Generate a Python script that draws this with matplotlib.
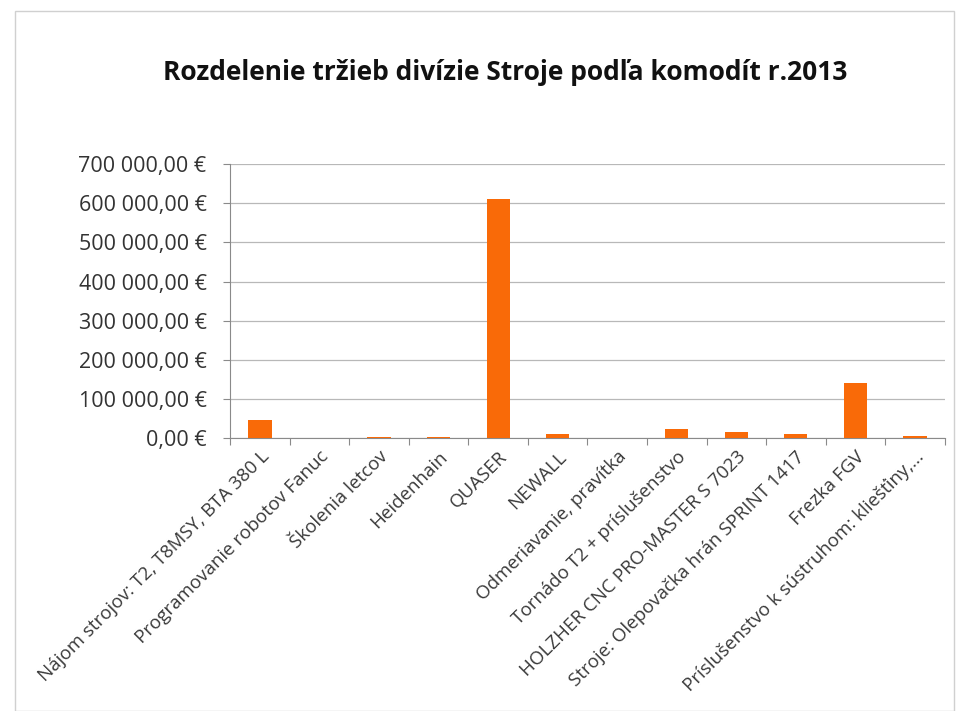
import numpy as np
import matplotlib.pyplot as plt
from matplotlib.ticker import FuncFormatter
from matplotlib.patches import Rectangle

# Tržby podľa komodít (EUR), odčítané z grafu
categories = [
    "Nájom strojov: T2, T8MSY, BTA 380 L",
    "Programovanie robotov Fanuc",
    "Školenia letcov",
    "Heidenhain",
    "QUASER",
    "NEWALL",
    "Odmeriavanie, pravítka",
    "Tornádo T2 + príslušenstvo",
    "HOLZHER CNC PRO-MASTER S 7023",
    "Stroje: Olepovačka hrán SPRINT 1417",
    "Frezka FGV",
    "Príslušenstvo k sústruhom: kliešťiny,...",
]
sales = [46000, 0, 2000, 2000, 611000, 11000, 0, 23000, 16000, 9000, 141000, 6000]
yticks = np.arange(0, 700001, 100000)

plt.rcParams['font.family'] = ['Open Sans', 'DejaVu Sans']

fig = plt.figure(figsize=(9.63, 7.11), dpi=100)
ax = fig.add_axes([0.239, 0.384, 0.742, 0.385])

x = np.arange(len(categories))
ax.bar(x, sales, width=0.39, color='#F96A08', zorder=3)

ax.set_xlim(-0.5, len(categories) - 0.5)
ax.set_ylim(0, 700000)
ax.set_yticks(yticks)


def euro(v, pos):
    s = f"{v:,.2f}".replace(",", " ").replace(".", ",")
    return s + " €"


ax.yaxis.set_major_formatter(FuncFormatter(euro))
ax.tick_params(axis='y', labelsize=15.5, colors='#8a8a8a', labelcolor='#333333',
               length=5, width=0.8, pad=12)
ax.grid(axis='y', color='#b8b8b8', linewidth=0.9, zorder=0)

ax.set_xticks(x)
ax.set_xticklabels(categories, rotation=45, ha='right', rotation_mode='anchor',
                   fontsize=13.5, color='#3a3a3a')
ax.tick_params(axis='x', length=0, pad=7)
ax.set_xticks(np.arange(-0.5, len(categories) + 0.5, 1), minor=True)
ax.tick_params(axis='x', which='minor', length=5, width=0.8, color='#8a8a8a')

for side in ['top', 'right']:
    ax.spines[side].set_visible(False)
ax.spines['left'].set_color('#8a8a8a')
ax.spines['bottom'].set_color('#8a8a8a')

fig.text(0.525, 0.898, "Rozdelenie tržieb divízie Stroje podľa komodít r.2013",
         ha='center', va='center', fontsize=19, fontweight='bold', color='#111111')

fig.patches.append(Rectangle((0.016, 0.0), 0.975, 0.985, transform=fig.transFigure,
                             fill=False, edgecolor='#d0d0d0', linewidth=1))

fig.savefig('out.png', dpi=100)
